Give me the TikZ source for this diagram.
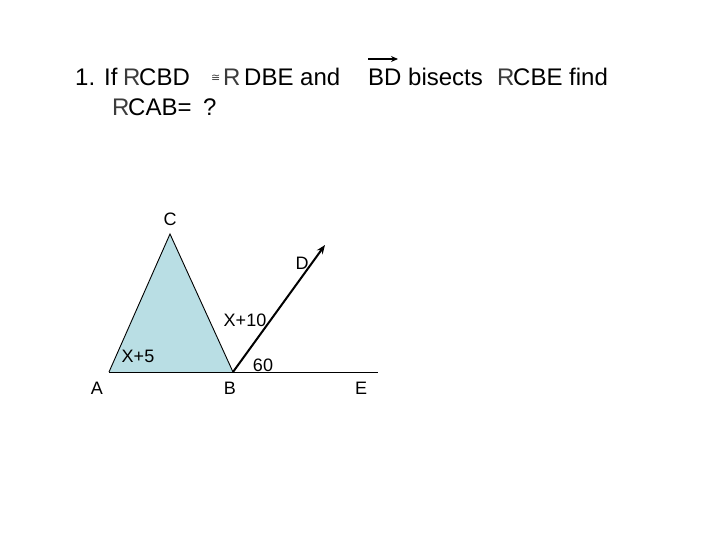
\documentclass[tikz,border=0pt]{standalone}
\usepackage{fontspec}
\setmainfont{Liberation Sans}
\newfontfamily\dvfont{DejaVu Sans}
\usetikzlibrary{arrows.meta}
\definecolor{trifill}{RGB}{185,222,228}
\definecolor{rgray}{RGB}{60,60,60}
\begin{document}
\begin{tikzpicture}[x=1pt,y=-1pt,
  txt/.style={anchor=base west,inner sep=0pt,font=\fontsize{24}{28}\selectfont},
  rtxt/.style={txt,text=rgray},
  lbl/.style={inner sep=0pt,font=\fontsize{18}{21}\selectfont},
  thin line/.style={line width=0.9pt,black},
  ray/.style={line width=2pt,black,-{Stealth[length=9pt,width=7pt]}}]
\useasboundingbox (0,0) rectangle (720,540);
% header text
\node[txt] (t1) at (75,86) {1. If};
\node[rtxt] (r1) at (123,86) {R};
\node[txt] (t2) at (139,86) {CBD};
\node[anchor=base west,inner sep=0pt,text=rgray,font=\dvfont\fontsize{11}{13}\selectfont] (cong) at (211,82) {≅};
\node[rtxt] (r2) at (223,86) {R};
\node[txt] (t3) at (244,86) {DBE and};
\node[txt] (t4) at (368,86) {BD bisects};
\node[rtxt] (r3) at (497,86) {R};
\node[txt] (t5) at (513,86) {CBE find};
\node[rtxt] (r4) at (112,116) {R};
\node[txt] (t6) at (128,116) {CAB=};
\node[txt] (t7) at (203,116) {?};
\coordinate (va1) at (368,59);
\coordinate (va2) at (398,59);
\draw[line width=1.6pt,-{Stealth[length=7pt,width=6pt]}] (va1) -- (va2);
% figure
\coordinate (A) at (109,372);
\coordinate (B) at (233,372);
\coordinate (C) at (170,234);
\coordinate (E) at (378,372);
\coordinate (Dt) at (325,245);
\fill[trifill] (A) -- (B) -- (C) -- cycle;
\draw[thin line] (A) -- (C) -- (B);
\draw[thin line] (A) -- (E);
\draw[ray] (B) -- (Dt);
% labels
\node[lbl] (lC) at (170,219) {C};
\node[lbl] (lD) at (302,263) {D};
\node[lbl] (l10) at (245,320) {X+10};
\node[lbl] (l5) at (138,356) {X+5};
\node[lbl] (l60) at (263,365) {60};
\node[lbl] (lA) at (97,388) {A};
\node[lbl] (lB) at (230,388) {B};
\node[lbl] (lE) at (361,388) {E};
\end{tikzpicture}
\end{document}
